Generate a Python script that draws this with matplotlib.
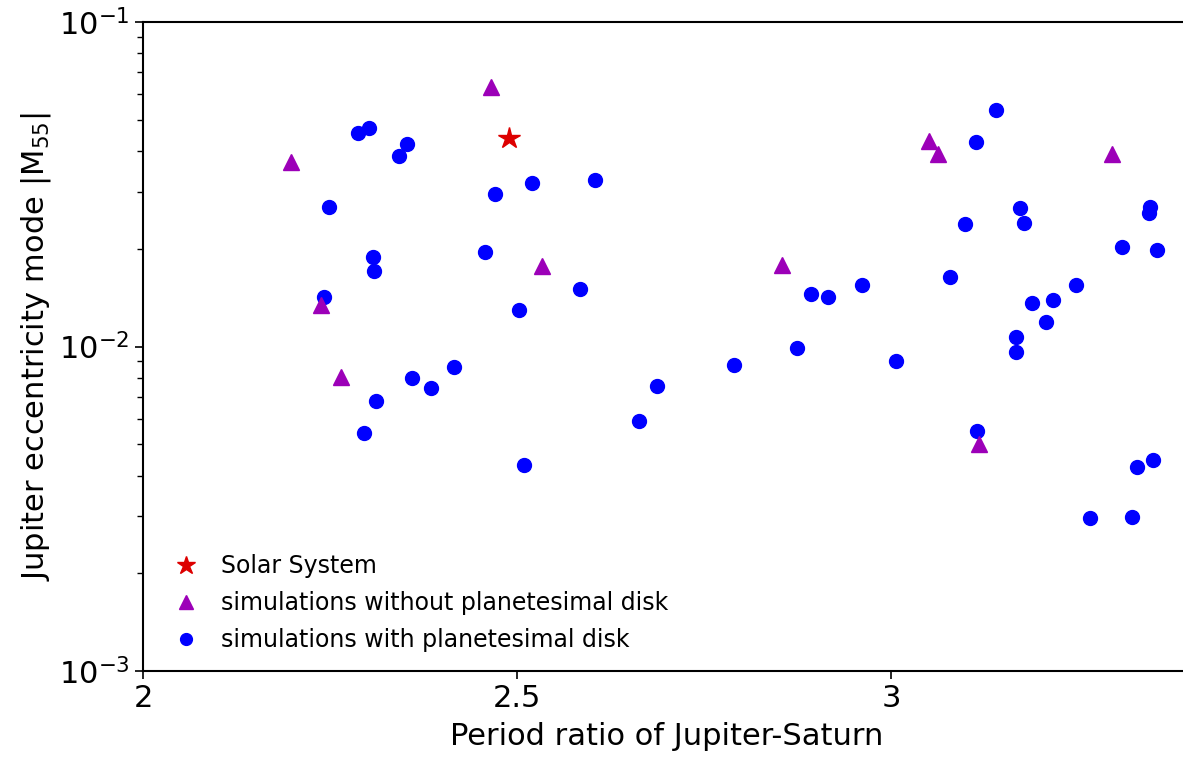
import numpy as np
import matplotlib
matplotlib.use('Agg')
from matplotlib import pyplot as plt

# Solar System
sun_x = [2.4897]
sun_y = [0.04382]

# simulations without planetesimal disk
nodisk_x = [2.1979, 2.2384, 2.2651, 2.4652, 2.5338, 2.8543, 3.0504, 3.0624, 3.1176, 3.2959]
nodisk_y = [0.03694, 0.01342, 0.00807, 0.0629, 0.0177, 0.01779, 0.04299, 0.03912, 0.004995, 0.03920]

# simulations with planetesimal disk
disk_x = [2.2878, 2.3017, 2.3533, 2.3418, 2.2487, 2.4710, 2.5205, 2.6047, 2.3075, 2.3092,
          2.4572, 2.2420, 2.5031, 2.5842, 2.8926, 2.9154, 2.9616, 2.8747, 3.1408, 3.1136,
          3.1721, 3.1782, 3.0985, 3.3463, 3.3453, 3.3092, 3.3552, 3.0789, 3.2477, 3.1885,
          3.2170, 3.2068, 3.1675, 3.1675, 3.0063, 2.3115, 2.2951, 2.3592, 2.3854, 2.4154,
          2.5096, 2.6627, 2.6868, 2.7897, 3.1154, 3.3507, 3.3285, 3.2660, 3.3222]
disk_y = [0.04558, 0.04712, 0.04208, 0.03865, 0.02685, 0.02957, 0.03196, 0.03258, 0.01883, 0.01713,
          0.01960, 0.01418, 0.01296, 0.01504, 0.01449, 0.01418, 0.01544, 0.00987, 0.05366, 0.04259,
          0.02672, 0.02397, 0.02390, 0.02682, 0.02570, 0.02026, 0.01979, 0.01637, 0.01547, 0.01365,
          0.01391, 0.01190, 0.01072, 0.00964, 0.00900, 0.00681, 0.00541, 0.00801, 0.00743, 0.00867,
          0.00431, 0.00589, 0.00757, 0.00877, 0.00549, 0.00447, 0.00424, 0.00296, 0.00298]

fig = plt.figure(figsize=(11.83, 7.62), dpi=100)
ax = fig.add_axes([0.1209, 0.1194, 0.8852, 0.8517])

ax.plot(sun_x, sun_y, linestyle='none', marker='*', color='#dd0000',
        markersize=16, label='Solar System', zorder=4)
ax.plot(nodisk_x, nodisk_y, linestyle='none', marker='^', color='#9c00b8',
        markersize=12, label='simulations without planetesimal disk', zorder=3)
ax.plot(disk_x, disk_y, linestyle='none', marker='o', color='#0000ff',
        markersize=10, label='simulations with planetesimal disk', zorder=2)

ax.set_yscale('log')
ax.set_xlim(2, 3.4)
ax.set_ylim(1e-3, 1e-1)
ax.set_xticks([2, 2.5, 3])
ax.set_xticklabels(['2', '2.5', '3'])

ax.tick_params(axis='both', which='major', labelsize=22, length=6, width=1.2)
ax.tick_params(axis='y', which='minor', length=4, width=1)
for s in ax.spines.values():
    s.set_linewidth(1.5)

ax.set_xlabel('Period ratio of Jupiter-Saturn', fontsize=22, labelpad=6)
ax.set_ylabel('Jupiter eccentricity mode |M$_{55}$|', fontsize=22, labelpad=4)

leg = ax.legend(loc='lower left', frameon=False, fontsize=17,
                handletextpad=0.5, borderaxespad=0.4, labelspacing=0.55,
                markerscale=0.85, bbox_to_anchor=(0.0, 0.0))

fig.savefig('out.png', dpi=100)
